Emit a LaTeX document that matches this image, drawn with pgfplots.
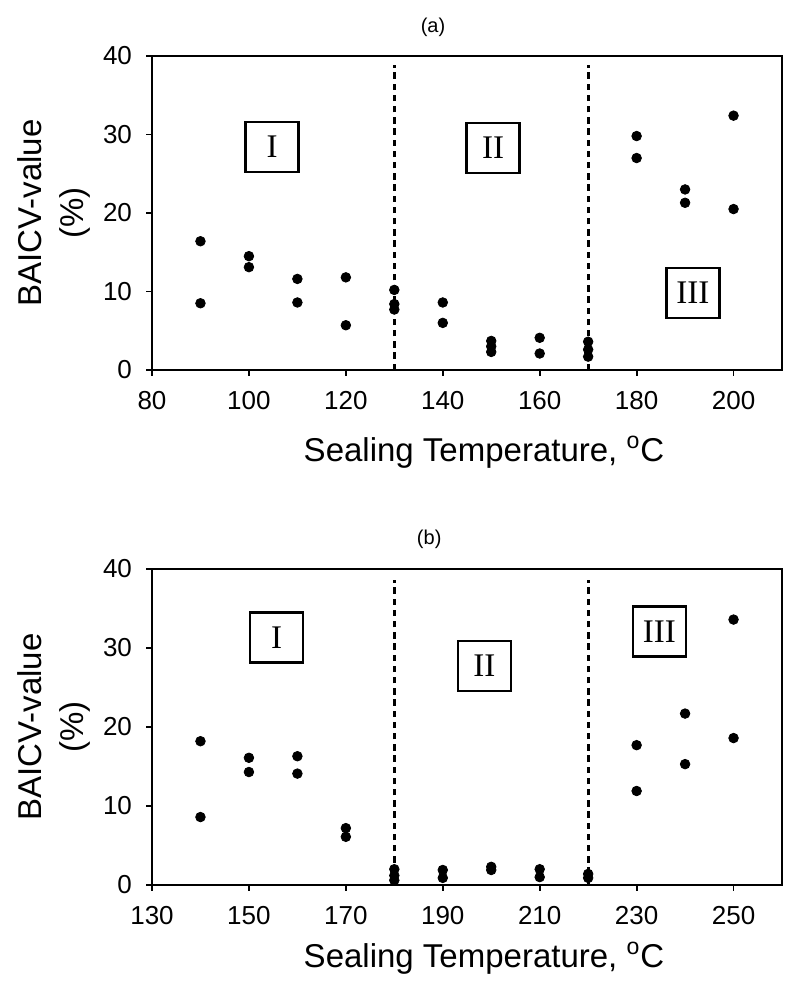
\documentclass[border=0pt]{standalone}
\usepackage{fontspec}
\setmainfont{Liberation Sans}
\newfontfamily\romanfont{Liberation Serif}
\usepackage{pgfplots}
\pgfplotsset{compat=1.18}

\pgfplotsset{
  baicv/.style={
    scale only axis, width=315pt, anchor=south west,
    ymin=0, ymax=40, ytick={0,10,...,40},
    axis line style={line width=1.2pt},
    tick align=outside, xtick pos=bottom, ytick pos=left,
    major tick length=3pt, major tick style={line width=0.9pt, black},
    tick label style={font=\fontsize{13}{15}\selectfont},
    xticklabel style={yshift=-4pt},
    yticklabel style={xshift=-3.5pt},
    /pgf/number format/assume math mode=true,
    xlabel={Sealing Temperature, \textsuperscript{o}C},
    ylabel={BAICV-value\\[2pt](\%)},
    label style={font=\fontsize{16.5}{19}\selectfont},
    ylabel style={align=center, at={(axis description cs:-0.156,0.5)}, anchor=center},
    clip=false,
  },
  dots/.style={only marks, mark=*, mark size=2.4pt, black},
  divider/.style={black, line width=1.5pt, dash pattern=on 3.2pt off 2.4pt},
}
\tikzset{
  region/.style={draw, line width=1.3pt, minimum width=26.5pt, minimum height=25pt,
    inner sep=0pt, font=\romanfont\fontsize{16.5}{16.5}\selectfont, fill=white},
  panel/.style={font=\fontsize{10}{12}\selectfont, anchor=center},
}

\begin{document}
\begin{tikzpicture}
\useasboundingbox (0,0) rectangle (394pt,491.5pt);

% (a)
\begin{axis}[baicv, at={(76pt,306.5pt)}, height=157pt,
    xmin=80, xmax=210, xtick={80,100,...,200},
    xlabel style={at={(axis description cs:0.527,-0.261)}, anchor=center},
]
\addplot[divider] coordinates {(130,0) (130,38.8)};
\addplot[divider] coordinates {(170,0) (170,38.8)};
\addplot[dots] coordinates {
    (90,16.4) (90,8.5)
    (100,14.5) (100,13.1)
    (110,11.6) (110,8.6)
    (120,11.8) (120,5.7)
    (130,10.2) (130,8.4) (130,7.7)
    (140,8.6) (140,6.0)
    (150,3.7) (150,3.0) (150,2.3)
    (160,4.1) (160,2.1)
    (170,3.6) (170,2.6) (170,1.7)
    (180,29.8) (180,27.0)
    (190,23.0) (190,21.3)
    (200,32.4) (200,20.5)
};
\node[region] at (axis cs:104.8,28.4) {I};
\node[region] at (axis cs:150.4,28.3) {II};
\node[region] at (axis cs:191.6,9.8) {III};
\node[panel, yshift=14.5pt] at (axis description cs:0.446,1) {(a)};
\end{axis}

% (b)
\begin{axis}[baicv, at={(76pt,49pt)}, height=158pt,
    xmin=130, xmax=260, xtick={130,150,...,250},
    xlabel style={at={(axis description cs:0.527,-0.231)}, anchor=center},
]
\addplot[divider] coordinates {(180,0) (180,38.6)};
\addplot[divider] coordinates {(220,0) (220,38.6)};
\addplot[dots] coordinates {
    (140,18.2) (140,8.6)
    (150,16.1) (150,14.3)
    (160,16.3) (160,14.1)
    (170,7.2) (170,6.1)
    (180,2.0) (180,1.2) (180,0.6)
    (190,1.9) (190,0.9)
    (200,2.3) (200,1.9)
    (210,2.0) (210,1.0)
    (220,1.4) (220,0.9)
    (230,17.7) (230,11.9)
    (240,21.7) (240,15.3)
    (250,33.6) (250,18.6)
};
\node[region] at (axis cs:155.7,31.3) {I};
\node[region] at (axis cs:198.6,27.7) {II};
\node[region] at (axis cs:234.7,32.1) {III};
\node[panel, yshift=15pt] at (axis description cs:0.44,1) {(b)};
\end{axis}
\end{tikzpicture}
\end{document}
